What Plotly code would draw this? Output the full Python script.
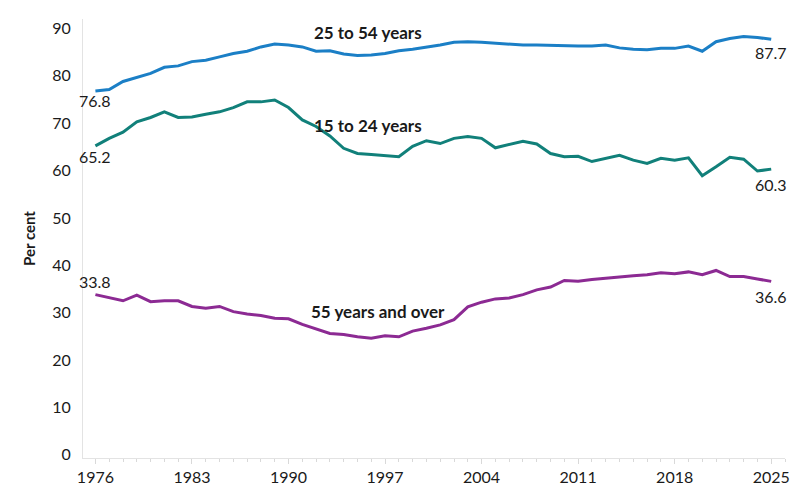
import plotly.graph_objects as go

# Data (per cent)
years = list(range(1976, 2026))

age_25_54 = [
    76.8, 77.1, 78.8, 79.6, 80.5, 81.8, 82.1, 83.0, 83.3, 84.0,
    84.7, 85.2, 86.1, 86.7, 86.5, 86.1, 85.2, 85.3, 84.6, 84.3,
    84.4, 84.7, 85.3, 85.6, 86.0, 86.5, 87.1, 87.2, 87.1, 86.9,
    86.6, 86.5, 86.5, 86.4, 86.3, 86.3, 86.3, 86.5, 85.9, 85.6,
    85.5, 85.8, 85.8, 86.3, 85.2, 87.2, 87.9, 88.3, 88.1, 87.7,
]

age_15_24 = [
    65.2, 66.8, 68.1, 70.3, 71.2, 72.4, 71.2, 71.3, 71.9, 72.4,
    73.3, 74.5, 74.5, 74.9, 73.3, 70.7, 69.3, 67.3, 64.7, 63.6,
    63.4, 63.1, 62.9, 65.1, 66.3, 65.7, 66.8, 67.2, 66.8, 64.8,
    65.5, 66.2, 65.6, 63.6, 62.9, 63.0, 61.9, 62.6, 63.2, 62.2,
    61.5, 62.6, 62.2, 62.7, 58.9, 60.8, 62.8, 62.4, 59.9, 60.3,
]

age_55_over = [
    33.8, 33.2, 32.5, 33.7, 32.3, 32.5, 32.5, 31.3, 30.9, 31.3,
    30.2, 29.7, 29.4, 28.8, 28.7, 27.5, 26.5, 25.6, 25.4, 24.9,
    24.6, 25.1, 24.9, 26.1, 26.7, 27.4, 28.5, 31.2, 32.2, 32.9,
    33.1, 33.8, 34.8, 35.4, 36.8, 36.6, 37.0, 37.3, 37.6, 37.8,
    38.0, 38.4, 38.2, 38.6, 38.0, 38.9, 37.6, 37.6, 37.1, 36.6,
]

series = [
    ("25 to 54 years", age_25_54, "#1b7fc6"),
    ("15 to 24 years", age_15_24, "#11807a"),
    ("55 years and over", age_55_over, "#8c2a93"),
]

FONT = "Lato"
TEXT = "#1a1a1a"

fig = go.Figure()
for name, vals, color in series:
    fig.add_trace(
        go.Scatter(
            x=years,
            y=vals,
            name=name,
            mode="lines",
            line=dict(color=color, width=3),
            hoverinfo="skip",
        )
    )

# series names (bold, inside the plot)
name_pos = [(1995.8, 89.2), (1995.8, 69.5), (1996.5, 30.2)]
annotations = []
for (name, vals, color), (ax, ay) in zip(series, name_pos):
    annotations.append(
        dict(
            x=ax, y=ay, text="<b>%s</b>" % name, showarrow=False,
            font=dict(family=FONT, size=17, color=TEXT),
            xanchor="center", yanchor="middle",
        )
    )

# first / last value labels
start_offsets = [-2.0, -2.3, 2.7]
end_offsets = [-2.7, -3.3, -3.1]
for (name, vals, color), so, eo in zip(series, start_offsets, end_offsets):
    annotations.append(
        dict(
            x=years[0], y=vals[0] + so, text="%.1f" % vals[0], showarrow=False,
            font=dict(family=FONT, size=16, color=TEXT),
            xanchor="center", yanchor="middle",
        )
    )
    annotations.append(
        dict(
            x=years[-1], y=vals[-1] + eo, text="%.1f" % vals[-1], showarrow=False,
            font=dict(family=FONT, size=16, color=TEXT),
            xanchor="center", yanchor="middle",
        )
    )

# page has an 8px body margin, so the figure is a bit smaller than the window
fig.update_layout(
    width=792,
    height=492,
    margin=dict(l=75, r=10, t=11, b=42),
    paper_bgcolor="white",
    plot_bgcolor="white",
    showlegend=False,
    font=dict(family=FONT, size=16, color=TEXT),
    annotations=annotations,
    xaxis=dict(
        range=[1975.1, 2026.0],
        tickmode="linear",
        tick0=1976,
        dtick=7,
        ticks="outside",
        ticklen=5,
        tickcolor="#d9d9d9",
        showline=True,
        linecolor="#e3e3e3",
        linewidth=1,
        showgrid=False,
        zeroline=False,
        minor=dict(dtick=1, tick0=1976, ticks="outside", ticklen=3, tickcolor="#d9d9d9", showgrid=False),
        tickfont=dict(family=FONT, size=16, color=TEXT),
    ),
    yaxis=dict(
        range=[-0.7, 92],
        tickmode="linear",
        tick0=0,
        dtick=10,
        showline=True,
        linecolor="#e3e3e3",
        linewidth=1,
        showgrid=False,
        zeroline=False,
        ticks="",
        ticklabelstandoff=8,
        tickfont=dict(family=FONT, size=16, color=TEXT),
        title=dict(text="<b>Per cent</b>", font=dict(family=FONT, size=15, color=TEXT), standoff=12),
    ),
)

fig.write_html("out.html")
